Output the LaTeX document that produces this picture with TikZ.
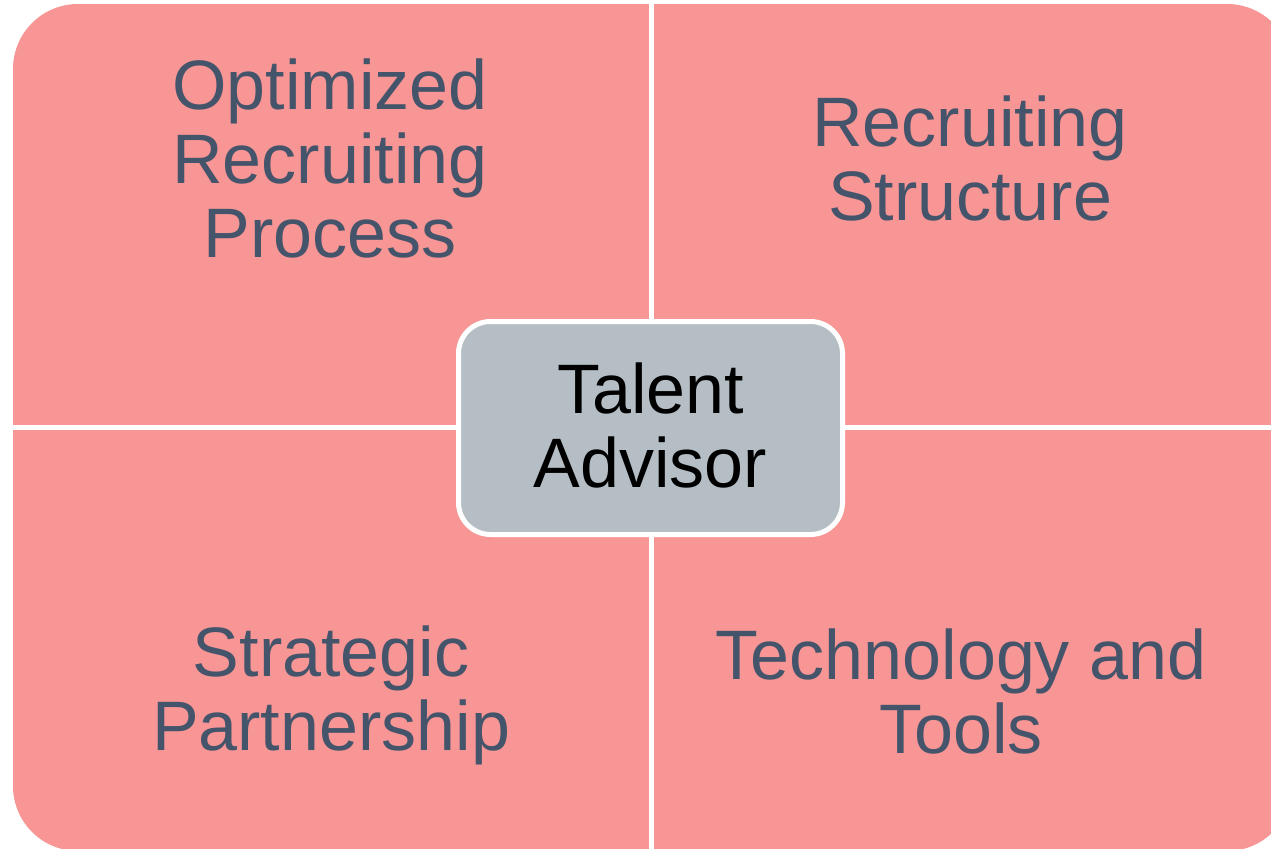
\documentclass[tikz,border=0pt]{standalone}
\usepackage{fontspec}
\setmainfont{Liberation Sans}
\definecolor{quadpink}{RGB}{248,149,149}
\definecolor{quadtext}{RGB}{68,84,106}
\definecolor{hubgray}{RGB}{180,190,196}
\tikzset{
  quadlabel/.style={anchor=base, inner sep=0pt, align=center, text=quadtext,
    font={\fontsize{70bp}{74bp}\selectfont}},
  hubbox/.style={draw=white, line width=5bp, fill=hubgray, rounded corners=32bp,
    minimum width=384bp, minimum height=213bp, inner sep=0pt, align=center,
    text depth=6bp, text=black, font={\fontsize{70bp}{74bp}\selectfont}},
  divider/.style={draw=white, line width=4.5bp}
}
\begin{document}
\begin{tikzpicture}[x=1bp, y=-1bp]
  \useasboundingbox (0,0) rectangle (1271,849);
  \fill[white] (0,0) rectangle (1271,849);
  \clip (0,0) rectangle (1271,849);
  % quadrant background
  \fill[quadpink, rounded corners=65bp] (13,4) rectangle (1292,851);
  % dividers
  \coordinate (vtop) at (651.5,0);
  \coordinate (vbot) at (651.5,849);
  \coordinate (hleft) at (0,427.5);
  \coordinate (hright) at (1271,427.5);
  \draw[divider] (vtop) -- (vbot);
  \draw[divider] (hleft) -- (hright);
  % quadrant labels (base anchor = baseline of last line)
  \node[quadlabel] (q1) at (330,257) {Optimized\\Recruiting\\Process};
  \node[quadlabel] (q2) at (970,220) {Recruiting\\Structure};
  \node[quadlabel] (q3) at (331,750) {Strategic\\Partnership};
  \node[quadlabel] (q4) at (961,753) {Technology and\\Tools};
  % hub
  \node[hubbox] (hub) at (650.5,428) {Talent\\Advisor};
\end{tikzpicture}
\end{document}
